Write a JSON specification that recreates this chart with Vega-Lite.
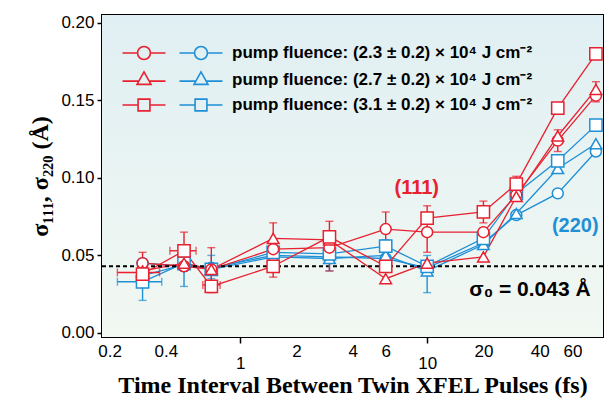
{
  "$schema": "https://vega.github.io/schema/vega-lite/v6.json",
  "autosize": "none",
  "width": 501,
  "height": 322,
  "padding": {"left": 102, "top": 15, "right": 8, "bottom": 63},
  "background": "white",
  "config": {
    "view": {"stroke": "black", "strokeWidth": 2},
    "font": "Liberation Sans"
  },
  "datasets": {
    "pts": [
      {"t": 0.3, "s": 0.045, "plane": "220", "fluence": "2.3"},
      {"t": 0.5, "s": 0.043, "plane": "220", "fluence": "2.3"},
      {"t": 0.7, "s": 0.042, "plane": "220", "fluence": "2.3"},
      {"t": 1.5, "s": 0.050, "plane": "220", "fluence": "2.3"},
      {"t": 3, "s": 0.049, "plane": "220", "fluence": "2.3"},
      {"t": 6, "s": 0.048, "plane": "220", "fluence": "2.3"},
      {"t": 10, "s": 0.042, "plane": "220", "fluence": "2.3"},
      {"t": 20, "s": 0.058, "plane": "220", "fluence": "2.3"},
      {"t": 30, "s": 0.076, "plane": "220", "fluence": "2.3"},
      {"t": 50, "s": 0.090, "plane": "220", "fluence": "2.3"},
      {"t": 80, "s": 0.117, "plane": "220", "fluence": "2.3"},
      {"t": 0.3, "s": 0.037, "plane": "220", "fluence": "2.7"},
      {"t": 0.5, "s": 0.044, "plane": "220", "fluence": "2.7"},
      {"t": 0.7, "s": 0.041, "plane": "220", "fluence": "2.7"},
      {"t": 1.5, "s": 0.049, "plane": "220", "fluence": "2.7"},
      {"t": 3, "s": 0.048, "plane": "220", "fluence": "2.7"},
      {"t": 6, "s": 0.050, "plane": "220", "fluence": "2.7"},
      {"t": 10, "s": 0.040, "plane": "220", "fluence": "2.7"},
      {"t": 20, "s": 0.057, "plane": "220", "fluence": "2.7"},
      {"t": 30, "s": 0.077, "plane": "220", "fluence": "2.7"},
      {"t": 50, "s": 0.106, "plane": "220", "fluence": "2.7"},
      {"t": 80, "s": 0.122, "plane": "220", "fluence": "2.7"},
      {"t": 0.3, "s": 0.033, "plane": "220", "fluence": "3.1"},
      {"t": 0.5, "s": 0.045, "plane": "220", "fluence": "3.1"},
      {"t": 0.7, "s": 0.041, "plane": "220", "fluence": "3.1"},
      {"t": 1.5, "s": 0.052, "plane": "220", "fluence": "3.1"},
      {"t": 3, "s": 0.051, "plane": "220", "fluence": "3.1"},
      {"t": 6, "s": 0.056, "plane": "220", "fluence": "3.1"},
      {"t": 10, "s": 0.043, "plane": "220", "fluence": "3.1"},
      {"t": 20, "s": 0.061, "plane": "220", "fluence": "3.1"},
      {"t": 30, "s": 0.090, "plane": "220", "fluence": "3.1"},
      {"t": 50, "s": 0.111, "plane": "220", "fluence": "3.1"},
      {"t": 80, "s": 0.134, "plane": "220", "fluence": "3.1"},
      {"t": 0.3, "s": 0.045, "plane": "111", "fluence": "2.3"},
      {"t": 0.5, "s": 0.043, "plane": "111", "fluence": "2.3"},
      {"t": 0.7, "s": 0.041, "plane": "111", "fluence": "2.3"},
      {"t": 1.5, "s": 0.054, "plane": "111", "fluence": "2.3"},
      {"t": 3, "s": 0.055, "plane": "111", "fluence": "2.3"},
      {"t": 6, "s": 0.067, "plane": "111", "fluence": "2.3"},
      {"t": 10, "s": 0.065, "plane": "111", "fluence": "2.3"},
      {"t": 20, "s": 0.065, "plane": "111", "fluence": "2.3"},
      {"t": 30, "s": 0.089, "plane": "111", "fluence": "2.3"},
      {"t": 50, "s": 0.124, "plane": "111", "fluence": "2.3"},
      {"t": 80, "s": 0.153, "plane": "111", "fluence": "2.3"},
      {"t": 0.3, "s": 0.040, "plane": "111", "fluence": "2.7"},
      {"t": 0.5, "s": 0.045, "plane": "111", "fluence": "2.7"},
      {"t": 0.7, "s": 0.041, "plane": "111", "fluence": "2.7"},
      {"t": 1.5, "s": 0.061, "plane": "111", "fluence": "2.7"},
      {"t": 3, "s": 0.060, "plane": "111", "fluence": "2.7"},
      {"t": 6, "s": 0.035, "plane": "111", "fluence": "2.7"},
      {"t": 10, "s": 0.045, "plane": "111", "fluence": "2.7"},
      {"t": 20, "s": 0.049, "plane": "111", "fluence": "2.7"},
      {"t": 30, "s": 0.088, "plane": "111", "fluence": "2.7"},
      {"t": 50, "s": 0.127, "plane": "111", "fluence": "2.7"},
      {"t": 80, "s": 0.157, "plane": "111", "fluence": "2.7"},
      {"t": 0.3, "s": 0.038, "plane": "111", "fluence": "3.1"},
      {"t": 0.5, "s": 0.053, "plane": "111", "fluence": "3.1"},
      {"t": 0.7, "s": 0.030, "plane": "111", "fluence": "3.1"},
      {"t": 1.5, "s": 0.043, "plane": "111", "fluence": "3.1"},
      {"t": 3, "s": 0.062, "plane": "111", "fluence": "3.1"},
      {"t": 6, "s": 0.043, "plane": "111", "fluence": "3.1"},
      {"t": 10, "s": 0.074, "plane": "111", "fluence": "3.1"},
      {"t": 20, "s": 0.078, "plane": "111", "fluence": "3.1"},
      {"t": 30, "s": 0.096, "plane": "111", "fluence": "3.1"},
      {"t": 50, "s": 0.145, "plane": "111", "fluence": "3.1"},
      {"t": 80, "s": 0.180, "plane": "111", "fluence": "3.1"}
    ],
    "yerr": [
      {"t": 0.3, "lo": 0.021, "hi": 0.045, "plane": "220"},
      {"t": 0.5, "lo": 0.030, "hi": 0.050, "plane": "220"},
      {"t": 0.7, "lo": 0.035, "hi": 0.050, "plane": "220"},
      {"t": 1.5, "lo": 0.045, "hi": 0.056, "plane": "220"},
      {"t": 3, "lo": 0.040, "hi": 0.056, "plane": "220"},
      {"t": 6, "lo": 0.050, "hi": 0.060, "plane": "220"},
      {"t": 10, "lo": 0.026, "hi": 0.050, "plane": "220"},
      {"t": 20, "lo": 0.055, "hi": 0.065, "plane": "220"},
      {"t": 0.3, "lo": 0.033, "hi": 0.052, "plane": "111"},
      {"t": 0.5, "lo": 0.040, "hi": 0.065, "plane": "111"},
      {"t": 0.7, "lo": 0.026, "hi": 0.055, "plane": "111"},
      {"t": 1.5, "lo": 0.036, "hi": 0.050, "plane": "111"},
      {"t": 1.5, "lo": 0.054, "hi": 0.071, "plane": "111"},
      {"t": 3, "lo": 0.040, "hi": 0.072, "plane": "111"},
      {"t": 6, "lo": 0.057, "hi": 0.078, "plane": "111"},
      {"t": 10, "lo": 0.052, "hi": 0.082, "plane": "111"},
      {"t": 20, "lo": 0.071, "hi": 0.085, "plane": "111"},
      {"t": 30, "lo": 0.090, "hi": 0.101, "plane": "111"},
      {"t": 50, "lo": 0.117, "hi": 0.131, "plane": "111"},
      {"t": 80, "lo": 0.149, "hi": 0.162, "plane": "111"}
    ],
    "xerr": [
      {"s": 0.033, "lo": 0.22, "hi": 0.38, "plane": "220"},
      {"s": 0.039, "lo": 0.22, "hi": 0.37, "plane": "111"},
      {"s": 0.053, "lo": 0.42, "hi": 0.58, "plane": "111"},
      {"s": 0.031, "lo": 0.63, "hi": 0.78, "plane": "111"}
    ],
    "legend": [{"fluence": "2.3"}, {"fluence": "2.7"}, {"fluence": "3.1"}],
    "one": [{}]
  },
  "layer": [
    {
      "data": {"name": "one"},
      "mark": {"type": "rect", "color": {"gradient": "linear", "x1": 0, "y1": 0, "x2": 0, "y2": 1, "stops": [{"offset": 0, "color": "#e0eff3"}, {"offset": 1, "color": "#f2f8f2"}]}},
      "encoding": {
        "x": {"datum": 0.182, "type": "quantitative", "scale": {"type": "log", "domain": [0.182, 87.3], "nice": false}, "axis": null},
        "x2": {"datum": 87.3},
        "y": {"datum": 0.205, "type": "quantitative", "scale": {"domain": [-0.0026, 0.205], "nice": false, "zero": false}, "axis": null},
        "y2": {"datum": -0.0026}
      }
    },
    {
      "data": {"name": "pts"},
      "mark": {"type": "line", "strokeWidth": 1.3},
      "encoding": {
        "x": {"field": "t", "type": "quantitative", "scale": {"type": "log", "domain": [0.182, 87.3], "nice": false},
          "axis": {
            "orient": "bottom",
            "values": [0.2, 0.3, 0.4, 0.5, 0.6, 0.7, 0.8, 0.9, 1, 2, 3, 4, 5, 6, 7, 8, 9, 10, 20, 30, 40, 50, 60, 70, 80],
            "format": "~g",
            "labelExpr": "indexof([0.2, 0.4, 1, 2, 4, 6, 10, 20, 40, 60], datum.value) >= 0 ? datum.label : ''",
            "labelPadding": {"condition": {"test": "datum.value == 1 || datum.value == 10", "value": 12}, "value": 9},
            "tickSize": {"condition": {"test": "datum.value == 1 || datum.value == 10", "value": 6}, "value": -3},
            "domain": false, "grid": false,
            "labelFont": "Liberation Sans", "labelFontSize": 17, "labelColor": "black",
            "labelFlush": false, "labelOverlap": false,
            "tickColor": "black", "tickWidth": 1.5,
            "title": "Time Interval Between Twin XFEL Pulses (fs)",
            "titleFont": "Liberation Serif", "titleFontSize": 24, "titleFontWeight": "bold", "titleColor": "black", "titlePadding": 2
          }},
        "y": {"field": "s", "type": "quantitative", "scale": {"domain": [-0.0026, 0.205], "nice": false, "zero": false},
          "axis": {
            "orient": "left",
            "values": [0, 0.05, 0.1, 0.15, 0.2],
            "format": ".2f",
            "tickSize": 5, "domain": false, "grid": false,
            "labelFont": "Liberation Sans", "labelFontSize": 17, "labelColor": "black", "labelPadding": 3,
            "tickColor": "black", "tickWidth": 1.5,
            "title": "σ₁₁₁, σ₂₂₀ (Å)",
            "titleFont": "Liberation Serif", "titleFontSize": 24, "titleFontWeight": "bold", "titleColor": "black", "titlePadding": 8
          }},
        "color": {"field": "plane", "type": "nominal", "scale": {"domain": ["111", "220"], "range": ["#e8202f", "#1f8fd6"]}, "legend": null},
        "detail": [{"field": "plane"}, {"field": "fluence"}]
      }
    },
    {
      "data": {"name": "pts"},
      "mark": {"type": "point", "opacity": 0},
      "encoding": {
        "x": {"field": "t", "type": "quantitative", "scale": {"type": "log", "domain": [0.182, 87.3], "nice": false},
          "axis": {
            "orient": "top",
            "values": [0.2, 0.3, 0.4, 0.5, 0.6, 0.7, 0.8, 0.9, 1, 2, 3, 4, 5, 6, 7, 8, 9, 10, 20, 30, 40, 50, 60, 70, 80],
            "labels": false, "domain": false, "grid": false, "title": null,
            "tickSize": {"condition": {"test": "datum.value == 1 || datum.value == 10", "value": -6}, "value": -3},
            "tickColor": "black", "tickWidth": 1.5
          }},
        "y": {"field": "s", "type": "quantitative", "scale": {"domain": [-0.0026, 0.205], "nice": false, "zero": false},
          "axis": {
            "orient": "right",
            "values": [0, 0.05, 0.1, 0.15, 0.2],
            "labels": false, "domain": false, "grid": false, "title": null,
            "tickSize": -5, "tickColor": "black", "tickWidth": 1.5
          }}
      }
    },
    {
      "data": {"name": "one"},
      "mark": {"type": "rule", "strokeDash": [4, 3], "strokeWidth": 1.8, "color": "black"},
      "encoding": {
        "y": {"datum": 0.043, "type": "quantitative", "scale": {"domain": [-0.0026, 0.205], "nice": false, "zero": false}, "axis": null}
      }
    },
    {
      "data": {"name": "yerr"},
      "mark": {"type": "errorbar", "ticks": true, "size": 8, "thickness": 1.4},
      "encoding": {
        "x": {"field": "t", "type": "quantitative", "scale": {"type": "log", "domain": [0.182, 87.3], "nice": false}, "axis": null},
        "y": {"field": "lo", "type": "quantitative", "scale": {"domain": [-0.0026, 0.205], "nice": false, "zero": false}, "axis": null},
        "y2": {"field": "hi"},
        "color": {"field": "plane", "type": "nominal", "legend": null}
      }
    },
    {
      "data": {"name": "xerr"},
      "mark": {"type": "errorbar", "ticks": true, "size": 8, "thickness": 1.4},
      "encoding": {
        "y": {"field": "s", "type": "quantitative", "scale": {"domain": [-0.0026, 0.205], "nice": false, "zero": false}, "axis": null},
        "x": {"field": "lo", "type": "quantitative", "scale": {"type": "log", "domain": [0.182, 87.3], "nice": false}, "axis": null},
        "x2": {"field": "hi"},
        "color": {"field": "plane", "type": "nominal", "legend": null}
      }
    },
    {
      "data": {"name": "pts"},
      "mark": {"type": "point", "filled": false, "fill": "white", "fillOpacity": 1, "strokeWidth": 1.5, "opacity": 1},
      "encoding": {
        "x": {"field": "t", "type": "quantitative", "scale": {"type": "log", "domain": [0.182, 87.3], "nice": false}, "axis": null},
        "y": {"field": "s", "type": "quantitative", "scale": {"domain": [-0.0026, 0.205], "nice": false, "zero": false}, "axis": null},
        "stroke": {"field": "plane", "type": "nominal", "scale": {"domain": ["111", "220"], "range": ["#e8202f", "#1f8fd6"]}, "legend": null},
        "shape": {"field": "fluence", "type": "nominal", "scale": {"domain": ["2.3", "2.7", "3.1"], "range": ["circle", "triangle-up", "square"]}, "legend": null},
        "size": {"field": "fluence", "type": "nominal", "scale": {"domain": ["2.3", "2.7", "3.1"], "range": [120, 150, 150]}, "legend": null}
      }
    },
    {
      "data": {"name": "one"},
      "mark": {"type": "text", "fontSize": 20, "fontWeight": "bold", "color": "#e8202f", "font": "Liberation Sans"},
      "encoding": {
        "x": {"datum": 8.8, "type": "quantitative", "scale": {"type": "log", "domain": [0.182, 87.3], "nice": false}, "axis": null},
        "y": {"datum": 0.0935, "type": "quantitative", "scale": {"domain": [-0.0026, 0.205], "nice": false, "zero": false}, "axis": null},
        "text": {"value": "(111)"}
      }
    },
    {
      "data": {"name": "one"},
      "mark": {"type": "text", "fontSize": 20, "fontWeight": "bold", "color": "#1f8fd6", "font": "Liberation Sans"},
      "encoding": {
        "x": {"datum": 62, "type": "quantitative", "scale": {"type": "log", "domain": [0.182, 87.3], "nice": false}, "axis": null},
        "y": {"datum": 0.069, "type": "quantitative", "scale": {"domain": [-0.0026, 0.205], "nice": false, "zero": false}, "axis": null},
        "text": {"value": "(220)"}
      }
    },
    {
      "data": {"name": "one"},
      "mark": {"type": "text", "fontSize": 21, "fontWeight": "bold", "color": "black", "font": "Liberation Sans"},
      "encoding": {
        "x": {"datum": 35.5, "type": "quantitative", "scale": {"type": "log", "domain": [0.182, 87.3], "nice": false}, "axis": null},
        "y": {"datum": 0.0277, "type": "quantitative", "scale": {"domain": [-0.0026, 0.205], "nice": false, "zero": false}, "axis": null},
        "text": {"value": "σ₀ = 0.043 Å"}
      }
    },
    {
      "data": {"name": "legend"},
      "mark": {"type": "point", "opacity": 0},
      "encoding": {
        "shape": {"field": "fluence", "type": "nominal",
          "scale": {"domain": ["2.3", "2.7", "3.1"], "range": [
            "M-2,0H-0.6M2,0H0.6M0.6,0A0.6,0.6,0,1,1,-0.6,0A0.6,0.6,0,1,1,0.6,0Z",
            "M-2,0.15H-0.48M2,0.15H0.48M0,-0.7L0.65,0.45L-0.65,0.45Z",
            "M-2,0H-0.55M2,0H0.55M-0.55,-0.55H0.55V0.55H-0.55Z"]},
          "legend": {"orient": "none", "legendX": 30, "legendY": 26, "title": null, "padding": 0,
            "symbolSize": 462, "symbolStrokeColor": "#e8202f", "symbolFillColor": "white", "symbolStrokeWidth": 1.6, "symbolOpacity": 1,
            "labelExpr": "''", "rowPadding": 4.5}}
      }
    },
    {
      "data": {"name": "legend"},
      "mark": {"type": "point", "opacity": 0},
      "encoding": {
        "shape": {"field": "fluence", "type": "nominal",
          "scale": {"domain": ["2.3", "2.7", "3.1"], "range": [
            "M-2,0H-0.6M2,0H0.6M0.6,0A0.6,0.6,0,1,1,-0.6,0A0.6,0.6,0,1,1,0.6,0Z",
            "M-2,0.15H-0.48M2,0.15H0.48M0,-0.7L0.65,0.45L-0.65,0.45Z",
            "M-2,0H-0.55M2,0H0.55M-0.55,-0.55H0.55V0.55H-0.55Z"]},
          "legend": {"orient": "none", "legendX": 87, "legendY": 26, "title": null, "padding": 0,
            "symbolSize": 462, "symbolStrokeColor": "#1f8fd6", "symbolFillColor": "white", "symbolStrokeWidth": 1.6, "symbolOpacity": 1,
            "labelExpr": "'pump fluence: (' + datum.label + ' ± 0.2) × 10⁴ J cm⁻²'",
            "labelFont": "Liberation Sans", "labelFontSize": 17, "labelFontWeight": "bold", "labelColor": "black",
            "labelOffset": 19, "labelLimit": 400, "rowPadding": 4.5}}
      }
    }
  ],
  "resolve": {
    "scale": {"shape": "independent", "size": "independent"},
    "legend": {"shape": "independent"},
    "axis": {"x": "independent", "y": "independent"}
  }
}
